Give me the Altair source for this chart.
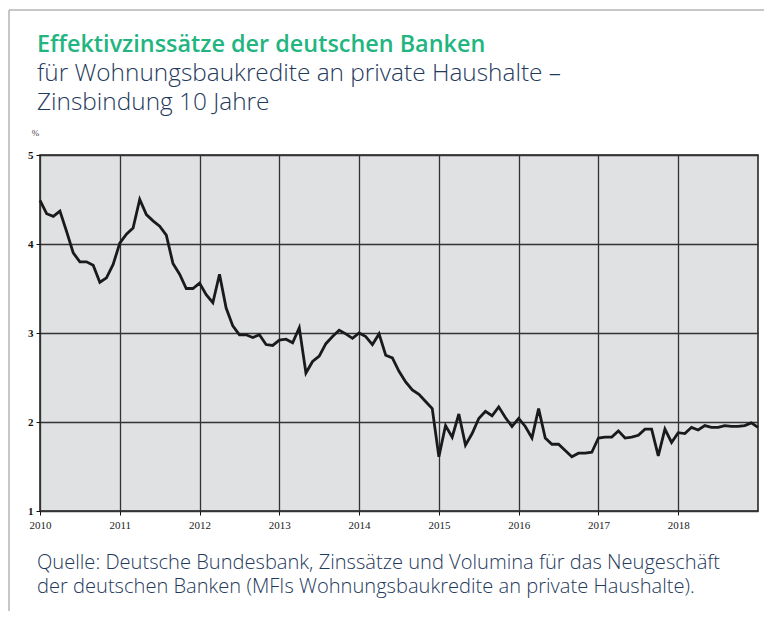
import altair as alt
import pandas as pd

# ---- data (monthly, Jan 2010 .. Jan 2019), percent ----
rates_2010 = [4.49, 4.34, 4.31, 4.37, 4.14, 3.90, 3.80, 3.80, 3.76, 3.57, 3.62, 3.77]
rates_2011 = [4.01, 4.11, 4.18, 4.50, 4.33, 4.26, 4.20, 4.10, 3.78, 3.66, 3.50, 3.50]
rates_2012 = [3.56, 3.43, 3.34, 3.66, 3.28, 3.08, 2.98, 2.98, 2.95, 2.98, 2.87, 2.86]
rates_2013 = [2.92, 2.93, 2.89, 3.06, 2.55, 2.68, 2.74, 2.88, 2.96, 3.03, 2.99, 2.94]
rates_2014 = [3.00, 2.96, 2.87, 2.99, 2.75, 2.72, 2.57, 2.45, 2.36, 2.31, 2.23, 2.15]
rates_2015 = [1.61, 1.96, 1.83, 2.09, 1.74, 1.87, 2.04, 2.12, 2.07, 2.17, 2.05, 1.95]
rates_2016 = [2.04, 1.95, 1.82, 2.15, 1.82, 1.75, 1.75, 1.68, 1.61, 1.65, 1.65, 1.66]
rates_2017 = [1.82, 1.83, 1.83, 1.90, 1.82, 1.83, 1.85, 1.92, 1.92, 1.62, 1.92, 1.77]
rates_2018 = [1.88, 1.87, 1.94, 1.91, 1.96, 1.94, 1.94, 1.96, 1.95, 1.95, 1.96, 1.99]
rates_2019 = [1.94]

start_year = 2010
x_ticks = [2010, 2011, 2012, 2013, 2014, 2015, 2016, 2017, 2018]
y_ticks = [1, 2, 3, 4, 5]

title_text = "Effektivzinssätze der deutschen Banken"
subtitle_lines = ["für Wohnungsbaukredite an private Haushalte –", "Zinsbindung 10 Jahre"]
source_lines = [
    "Quelle: Deutsche Bundesbank, Zinssätze und Volumina für das Neugeschäft",
    "der deutschen Banken (MFIs Wohnungsbaukredite an private Haushalte).",
]
unit_label = "%"

rates = (rates_2010 + rates_2011 + rates_2012 + rates_2013 + rates_2014
         + rates_2015 + rates_2016 + rates_2017 + rates_2018 + rates_2019)
df = pd.DataFrame({"t": [start_year + i / 12 for i in range(len(rates))], "rate": rates})

W, H = 718, 356
GREEN = "#22b57f"
NAVY = "#1f3a5c"
GRID = "#333333"
TEXT_FONT = "Open Sans"

x_axis = alt.Axis(
    values=x_ticks, format="d", title=None, grid=True, gridColor=GRID, gridWidth=1.3,
    domain=False, ticks=True, tickColor="#111", tickSize=4, tickWidth=1,
    labelFont="Liberation Serif", labelFontSize=11, labelColor="#222",
    labelPadding=4, labelFlush=False, labelOverlap=False,
)
y_axis = alt.Axis(
    values=y_ticks, format="d", grid=True, gridColor=GRID, gridWidth=1.3,
    domain=False, ticks=True, tickColor="#111", tickSize=4, tickWidth=1,
    labelFont="Liberation Serif", labelFontSize=11, labelFontWeight="bold",
    labelColor="#111", labelPadding=3, labelFlush=False,
    title=unit_label, titleAngle=0, titleFont="Liberation Serif", titleFontSize=9,
    titleFontWeight="normal", titleColor="#444", titleX=-5, titleY=-20,
    titleAlign="center", titleBaseline="alphabetic",
)

line = alt.Chart(df).mark_line(color="#1a1a1a", strokeWidth=2.8).encode(
    x=alt.X("t:Q", scale=alt.Scale(domain=[2010, 2019], nice=False, zero=False), axis=x_axis),
    y=alt.Y("rate:Q", scale=alt.Scale(domain=[1, 5], nice=False, zero=False), axis=y_axis),
)

title_layer = alt.Chart(pd.DataFrame({"text": [title_text]})).mark_text(
    align="left", baseline="alphabetic", font=TEXT_FONT, fontSize=23.4, fontWeight=600, color=GREEN
).encode(x=alt.value(-3), y=alt.value(-103), text="text:N")

subtitle_layer = alt.Chart(pd.DataFrame({"text": ["\n".join(subtitle_lines)]})).mark_text(
    align="left", baseline="alphabetic", font=TEXT_FONT, fontSize=24.4, fontWeight=300, color=NAVY,
    lineBreak="\n", lineHeight=29,
).encode(x=alt.value(-3), y=alt.value(-74), text="text:N")

source_layer = alt.Chart(pd.DataFrame({"text": ["\n".join(source_lines)]})).mark_text(
    align="left", baseline="alphabetic", font=TEXT_FONT, fontSize=20.1, fontWeight=300, color=NAVY,
    lineBreak="\n", lineHeight=24,
).encode(x=alt.value(-3), y=alt.value(414), text="text:N")

frame_df = pd.DataFrame({"k": [0]})
frame_top = alt.Chart(frame_df).mark_rule(color="#b5b5b5", strokeWidth=1.5).encode(
    x=alt.value(-31), x2=alt.value(W + 6), y=alt.value(-145)
)
frame_left = alt.Chart(frame_df).mark_rule(color="#b5b5b5", strokeWidth=1.5).encode(
    x=alt.value(-31), y=alt.value(-145), y2=alt.value(H + 100)
)

chart = alt.layer(
    line, title_layer, subtitle_layer, source_layer, frame_top, frame_left
).properties(
    width=W, height=H,
    autosize=alt.AutoSizeParams(type="none"),
    padding={"left": 32, "top": 147, "right": 6, "bottom": 100},
    background="white",
).configure_view(
    fill="#e0e1e3", stroke="#1a1a1a", strokeWidth=1.5
)

chart.save("out.html", embed_options={"renderer": "svg", "actions": False})
